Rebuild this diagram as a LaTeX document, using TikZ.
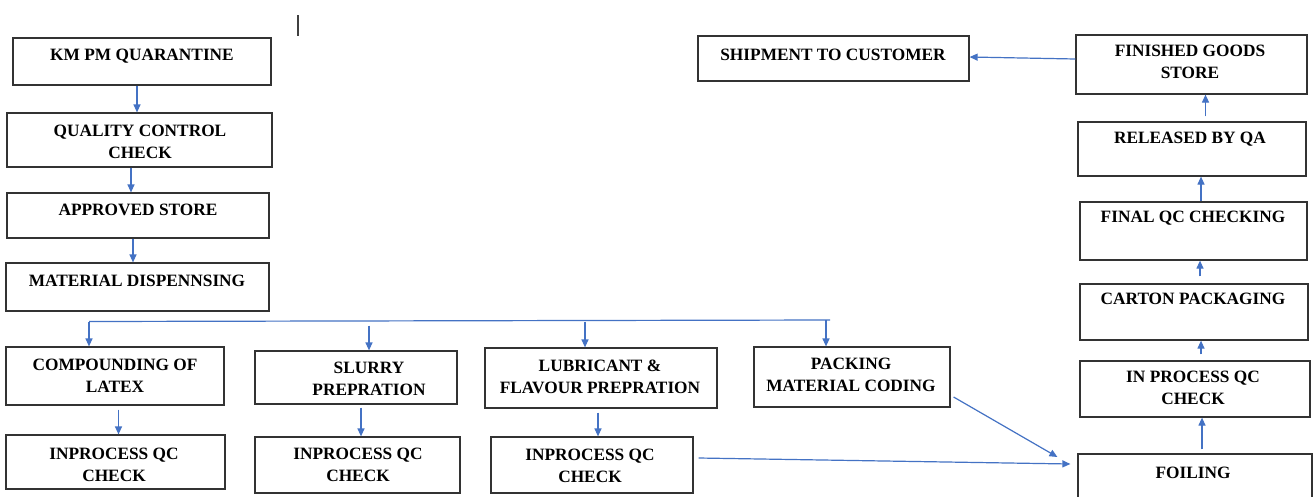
\documentclass[tikz,border=0pt]{standalone}
\usepackage{fontspec}
\setmainfont{Liberation Serif}
\usetikzlibrary{arrows.meta}
\definecolor{flowblue}{HTML}{4472C4}
\definecolor{edgegray}{HTML}{333333}
\tikzset{
  box/.style={draw=edgegray, line width=1.2pt, inner sep=0pt, fill=white},
  lbl/.style={font=\bfseries\fontsize{17.3}{22}\selectfont, align=center, inner sep=0pt, text=black},
  flow/.style={draw=flowblue, line width=1.2pt, -{Triangle[length=8pt,width=7pt]}},
  flowline/.style={draw=flowblue, line width=1.2pt}
}
% \stagebox{name}{x1}{y1}{x2}{y2}: rectangle between two corners
\newcommand\stagebox[5]{\node[box, minimum width={#4-#2}, minimum height={#5-#3}] (#1) at ({(#2+#4)/2},{(#3+#5)/2}) {};}
\begin{document}
\begin{tikzpicture}[x=1pt,y=-1pt]
\clip (0,0) rectangle (1314,496);
\fill[white] (0,0) rectangle (1314,496);

% small caret mark at the top
\draw[black!75, line width=1.1pt] (298,15) -- (298,36);

% ---- raw material column ----
\stagebox{km}{13}{38}{271}{85}
\node[lbl] (km-t) at (142,56) {KM PM QUARANTINE};
\stagebox{qc}{7}{113}{272}{167}
\node[lbl] (qc-t) at (140,142) {QUALITY CONTROL\\CHECK};
\stagebox{ap}{7}{193}{269}{238}
\node[lbl] (ap-t) at (138,210) {APPROVED STORE};
\stagebox{md}{6}{263}{269}{311}
\node[lbl] (md-t) at (137,281) {MATERIAL DISPENNSING};

% ---- preparation stages ----
\stagebox{cl}{6}{347}{224}{405}
\node[lbl] (cl-t) at (115,376) {COMPOUNDING OF\\LATEX};
\stagebox{iq1}{6}{435}{225}{489}
\node[lbl] (iq1-t) at (114,465) {INPROCESS QC\\CHECK};
\stagebox{sl}{255}{351}{457}{404}
\node[lbl] (sl-t) at (369,379) {SLURRY\\PREPRATION};
\stagebox{iq2}{255}{437}{460}{493}
\node[lbl] (iq2-t) at (358,465) {INPROCESS QC\\CHECK};
\stagebox{lu}{485}{348}{717}{408}
\node[lbl] (lu-t) at (600,377) {LUBRICANT \&\\FLAVOUR PREPRATION};
\stagebox{iq3}{491}{437}{693}{493}
\node[lbl] (iq3-t) at (590,466) {INPROCESS QC\\CHECK};
\stagebox{pk}{754}{347}{950}{407}
\node[lbl] (pk-t) at (851,375) {PACKING\\MATERIAL CODING};

% ---- packing and release column ----
\stagebox{fo}{1078}{454}{1312}{510}
\node[lbl] (fo-t) at (1193,473) {FOILING};
\stagebox{ipq}{1080}{361}{1310}{417}
\node[lbl] (ipq-t) at (1193,388) {IN PROCESS QC\\CHECK};
\stagebox{ca}{1080}{284}{1308}{340}
\node[lbl] (ca-t) at (1193,299) {CARTON PACKAGING};
\stagebox{fq}{1080}{202}{1307}{260}
\node[lbl] (fq-t) at (1193,218) {FINAL QC CHECKING};
\stagebox{rq}{1078}{122}{1306}{176}
\node[lbl] (rq-t) at (1190,139) {RELEASED BY QA};
\stagebox{fg}{1076}{35}{1307}{94}
\node[lbl] (fg-t) at (1190,62) {FINISHED GOODS\\STORE};
\stagebox{sh}{698}{36}{969}{81}
\node[lbl] (sh-t) at (833,55) {SHIPMENT TO CUSTOMER};

% ---- connectors: raw material column ----
\draw[flow] ([xshift=-5]km.south) -- ([xshift=-5]km.south |- qc.north);
\draw[flow] ([xshift=-8.5]qc.south) -- ([xshift=-8.5]qc.south |- ap.north);
\draw[flow] ([xshift=-5]ap.south) -- ([xshift=-5]ap.south |- md.north);

% ---- distribution bar ----
\coordinate (busL) at (89,321.5);
\coordinate (busR) at (830,320);
\draw[flowline] (busL) -- (busR);
\draw[flow] (busL) -- (busL |- cl.north);
\draw[flow] ([xshift=13,yshift=-4]sl.north |- busL) -- ([xshift=13]sl.north);
\draw[flow] ([xshift=-16]lu.north |- busL) -- ([xshift=-16]lu.north);
\draw[flow] ([xshift=-4]busR) -- ([xshift=-4]busR |- pk.north);

% ---- connectors: preparation to in-process checks ----
\draw[flow] ([xshift=3.5,yshift=-4]cl.south) -- ([xshift=3.5]cl.south |- iq1.north);
\draw[flow] ([xshift=5,yshift=-3]sl.south) -- ([xshift=5]sl.south |- iq2.north);
\draw[flow] ([xshift=-3,yshift=-4]lu.south) -- ([xshift=-3]lu.south |- iq3.north);

% ---- connectors into foiling ----
\draw[flow] ([xshift=5,yshift=7]iq3.east) -- ([xshift=-7,yshift=18]fo.west);
\draw[flow] ([xshift=3,yshift=-20]pk.east) -- ([xshift=-20,yshift=25]fo.west);

% ---- connectors: packing and release column ----
\draw[flow] ([xshift=7,yshift=4]fo.north) -- ([xshift=7]fo.north |- ipq.south);
\draw[flow] ([xshift=6,yshift=6]ipq.north) -- ([xshift=6]ipq.north |- ca.south);
\draw[flow] ([xshift=6,yshift=7]ca.north) -- ([xshift=6]ca.north |- fq.south);
\draw[flow] ([xshift=7.5]fq.north) -- ([xshift=7.5]fq.north |- rq.south);
\draw[flow] ([xshift=13.5,yshift=5]rq.north) -- ([xshift=13.5]rq.north |- fg.south);
\draw[flow] ([yshift=5.5]fg.west) -- ([yshift=1.5]sh.east);
\end{tikzpicture}
\end{document}
